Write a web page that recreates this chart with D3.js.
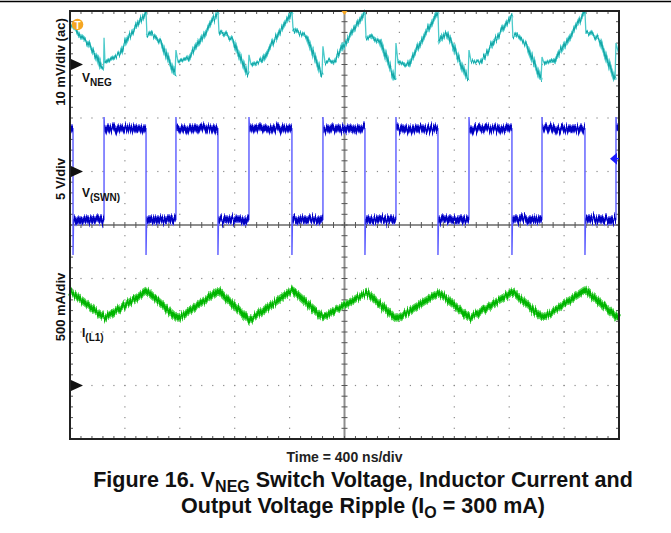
<!DOCTYPE html>
<html>
<head>
<meta charset="utf-8">
<title>VNEG switch voltage, inductor current and output ripple</title>
<script src="https://d3js.org/d3.v7.min.js"></script>
<style>
  body { margin: 0; background: #fff; }
  text { font-family: "Liberation Sans", Arial, sans-serif; font-weight: bold; }
</style>
</head>
<body>
<script>
// time axis: 10 div x 400 ns
var timeDomainNs = [0, 4000];

// V(SWN) edges (ns) and levels (V)
var swnFallNs = [22, 554, 1078, 1617, 2149, 2681, 3220, 3752];
var swnRiseNs = [248, 772, 1304, 1843, 2375, 2907, 3439, 3978];
var swnHighV = 4.0, swnLowV = -4.5, swnUnderV = -7.8, swnOverV = 5.1;

// VNEG ripple (ac), mV
var vnegNs = [0, 22, 73, 131, 200, 226, 245, 248, 255, 364, 415, 488, 554,
  561, 590, 663, 765, 772, 787, 860, 1078,
  1086, 1115, 1188, 1297, 1304, 1319, 1392, 1617,
  1625, 1655, 1727, 1836, 1843, 1858, 1931, 2004, 2149,
  2157, 2190, 2259, 2368, 2375, 2390, 2463, 2681,
  2688, 2740, 2790, 2900, 2907, 2922, 2995, 3220,
  3227, 3260, 3329, 3432, 3439, 3453, 3526, 3752,
  3759, 3790, 3861, 3971, 3978, 4000];
var vnegMv = [7.6, 7.0, 5.4, 4.0, 1.2, -0.7, -0.6, 5.0, 0.4, 2.1, 4.6, 7.4, 9.8,
  5.3, 5.9, 4.2, -2.0, 2.7, 0.5, 1.0, 9.8,
  5.9, 6.0, 4.6, -2.0, 1.8, 0.0, 0.6, 9.8,
  6.8, 6.2, 5.0, -2.0, 3.4, 0.4, 0.8, 4.0, 9.8,
  5.0, 5.5, 4.2, -2.9, 4.0, 0.3, -0.1, 9.8,
  4.0, 5.9, 3.6, -2.9, 2.7, 0.6, 0.6, 9.3,
  5.1, 5.5, 3.6, -2.9, 1.4, 0.3, 0.5, 9.8,
  5.9, 6.0, 4.6, -2.9, 4.0, 1.8];

// inductor current, mA
var ilNs = [0, 255, 561, 787, 1080, 1310, 1620, 1843, 2160, 2380, 2688, 2914, 3225, 3446, 3752, 4000];
var ilMa = [880, 631, 883, 621, 886, 612, 892, 635, 870, 621, 870, 628, 877, 628, 893, 625];

var W = 671, H = 533;
var L = 70, R = 619, T = 11, B = 439;

var svg = d3.select('body').append('svg')
  .attr('width', W)
  .attr('height', H);

// scope noise look: shift each pixel column up/down a little
var defs = svg.append('defs');
function noiseFilter(id, freq, amount, seed) {
  var f = defs.append('filter').attr('id', id).attr('filterUnits', 'userSpaceOnUse')
    .attr('x', 0).attr('y', 0).attr('width', W).attr('height', H);
  f.append('feTurbulence').attr('type', 'fractalNoise').attr('baseFrequency', freq + ' 0.01')
    .attr('numOctaves', 2).attr('seed', seed).attr('result', 'n');
  f.append('feColorMatrix').attr('in', 'n').attr('type', 'matrix')
    .attr('values', '0 0 0 0 0.5  0 1 0 0 0  0 0 0 0 0  0 0 0 0 1').attr('result', 'm');
  f.append('feDisplacementMap').attr('in', 'SourceGraphic').attr('in2', 'm')
    .attr('scale', amount).attr('xChannelSelector', 'R').attr('yChannelSelector', 'G');
}
noiseFilter('noiseA', 0.7, 9, 3);
noiseFilter('noiseB', 0.9, 12, 7);

var x = d3.scaleLinear().domain(timeDomainNs).range([L, R]);
var xDiv = d3.scaleLinear().domain([0, 10]).range([L, R]);
var yDiv = d3.scaleLinear().domain([0, 8]).range([T, B]);
// channel scales, ground markers at div 1, 3 and 7
var yNeg = d3.scaleLinear().domain([-70, 10]).range([B, T]);
var ySw = d3.scaleLinear().domain([-25, 15]).range([B, T]);
var yIl = d3.scaleLinear().domain([-500, 3500]).range([B, T]);

// page rule at top
svg.append('line').attr('x1', 0).attr('x2', W).attr('y1', 1.5).attr('y2', 1.5)
  .attr('stroke', '#000').attr('stroke-width', 1.5);

// dotted grid
var grid = svg.append('g');
d3.range(1, 10).forEach(function(i) {
  if (i == 5) return;
  d3.range(0, 40.01, 1).forEach(function(k) {
    grid.append('rect').attr('x', xDiv(i) - 0.6).attr('y', yDiv(k / 5) - 0.6)
      .attr('width', 1.2).attr('height', 1.2).attr('fill', '#8a8a8a');
  });
});
d3.range(1, 8).forEach(function(j) {
  if (j == 4) return;
  d3.range(0, 50.01, 1).forEach(function(k) {
    grid.append('rect').attr('x', xDiv(k / 5) - 0.6).attr('y', yDiv(j) - 0.6)
      .attr('width', 1.2).attr('height', 1.2).attr('fill', '#8a8a8a');
  });
});

// centre cross with minor ticks
grid.append('line').attr('x1', xDiv(5)).attr('x2', xDiv(5)).attr('y1', T).attr('y2', B)
  .attr('stroke', '#8e8e8e').attr('stroke-width', 2);
grid.append('line').attr('x1', L).attr('x2', R).attr('y1', yDiv(4)).attr('y2', yDiv(4))
  .attr('stroke', '#8e8e8e').attr('stroke-width', 2);
d3.range(0, 40.01, 1).forEach(function(k) {
  grid.append('line').attr('x1', xDiv(5) - 3).attr('x2', xDiv(5) + 3)
    .attr('y1', yDiv(k / 5)).attr('y2', yDiv(k / 5)).attr('stroke', '#555').attr('stroke-width', 1);
  grid.append('line').attr('x1', L).attr('x2', L + 3)
    .attr('y1', yDiv(k / 5)).attr('y2', yDiv(k / 5)).attr('stroke', '#555').attr('stroke-width', 1);
  grid.append('line').attr('x1', R - 3).attr('x2', R)
    .attr('y1', yDiv(k / 5)).attr('y2', yDiv(k / 5)).attr('stroke', '#555').attr('stroke-width', 1);
});
d3.range(0, 50.01, 1).forEach(function(k) {
  grid.append('line').attr('x1', xDiv(k / 5)).attr('x2', xDiv(k / 5))
    .attr('y1', yDiv(4) - 3).attr('y2', yDiv(4) + 3).attr('stroke', '#555').attr('stroke-width', 1);
  grid.append('line').attr('x1', xDiv(k / 5)).attr('x2', xDiv(k / 5))
    .attr('y1', B - 3).attr('y2', B).attr('stroke', '#555').attr('stroke-width', 1);
  grid.append('line').attr('x1', xDiv(k / 5)).attr('x2', xDiv(k / 5))
    .attr('y1', T).attr('y2', T + 3).attr('stroke', '#555').attr('stroke-width', 1);
});

var traces = svg.append('g');

// ---- VNEG (cyan)
var vneg = vnegNs.map(function(t, i) { return {t: t, v: vnegMv[i]}; });
var lineNeg = d3.line().x(function(d) { return x(d.t); }).y(function(d) { return yNeg(d.v); });
traces.append('path').datum(vneg).attr('d', lineNeg)
  .attr('fill', 'none').attr('stroke', '#4ccaca').attr('stroke-width', 1.3);
// noisy band: split at the drops, skip the spikes
var dropNs = swnFallNs.slice(1);
var pieces = [], cur = [];
vneg.forEach(function(d) {
  if (cur.length && dropNs.indexOf(cur[cur.length - 1].t) >= 0) { pieces.push(cur); cur = []; }
  cur.push(d);
});
pieces.push(cur);
var bandNeg = d3.line().defined(function(d) { return swnRiseNs.indexOf(d.t) < 0; })
  .x(function(d) { return x(d.t); }).y(function(d) { return yNeg(d.v); });
var gNeg = traces.append('g').attr('filter', 'url(#noiseA)');
pieces.forEach(function(p) {
  gNeg.append('path').datum(p).attr('d', bandNeg).attr('fill', 'none')
    .attr('stroke', '#5fd2d2').attr('stroke-width', 4).attr('stroke-linejoin', 'round');
  gNeg.append('path').datum(p).attr('d', bandNeg).attr('fill', 'none')
    .attr('stroke', '#13a6a6').attr('stroke-width', 1.8).attr('stroke-linejoin', 'round');
});

// ---- V(SWN) (blue)
var events = swnFallNs.map(function(t) { return {t: t, fall: true}; })
  .concat(swnRiseNs.map(function(t) { return {t: t, fall: false}; }))
  .sort(function(a, b) { return a.t - b.t; });
var sw = [{t: 0, v: swnHighV}], plateaus = [], start = 0, lvl = swnHighV;
events.forEach(function(e) {
  if (e.fall) {
    sw.push({t: e.t, v: swnHighV}, {t: e.t, v: swnUnderV}, {t: e.t + 4, v: swnLowV});
    plateaus.push([{t: start, v: swnHighV}, {t: e.t, v: swnHighV}]);
    start = e.t + 4; lvl = swnLowV;
  } else {
    sw.push({t: e.t, v: swnLowV}, {t: e.t, v: swnOverV}, {t: e.t + 4, v: swnHighV});
    plateaus.push([{t: start, v: swnLowV}, {t: e.t, v: swnLowV}]);
    start = e.t + 4; lvl = swnHighV;
  }
});
sw.push({t: timeDomainNs[1], v: lvl});
plateaus.push([{t: start, v: lvl}, {t: timeDomainNs[1], v: lvl}]);
var lineSw = d3.line().x(function(d) { return x(d.t); }).y(function(d) { return ySw(d.v); });
traces.append('path').datum(sw).attr('d', lineSw)
  .attr('fill', 'none').attr('stroke', '#5a5aff').attr('stroke-width', 1.4);
var gSw = traces.append('g').attr('filter', 'url(#noiseB)');
plateaus.forEach(function(p) {
  gSw.append('path').datum(p).attr('d', lineSw).attr('fill', 'none')
    .attr('stroke', '#7070f0').attr('stroke-width', 9);
  gSw.append('path').datum(p).attr('d', lineSw).attr('fill', 'none')
    .attr('stroke', '#0606c0').attr('stroke-width', 6);
});

// ---- I(L1) (green)
var il = ilNs.map(function(t, i) { return {t: t, v: ilMa[i]}; });
var lineIl = d3.line().x(function(d) { return x(d.t); }).y(function(d) { return yIl(d.v); });
var gIl = traces.append('g').attr('filter', 'url(#noiseA)');
gIl.append('path').datum(il).attr('d', lineIl).attr('fill', 'none')
  .attr('stroke', '#5ad65a').attr('stroke-width', 7).attr('stroke-linejoin', 'round');
gIl.append('path').datum(il).attr('d', lineIl).attr('fill', 'none')
  .attr('stroke', '#06b406').attr('stroke-width', 4).attr('stroke-linejoin', 'round');

// frame
svg.append('rect').attr('x', L).attr('y', T).attr('width', R - L).attr('height', B - T)
  .attr('fill', 'none').attr('stroke', '#222').attr('stroke-width', 2);

// channel ground markers
[yNeg(0), ySw(0), yIl(0)].forEach(function(yy) {
  svg.append('path').attr('d', 'M' + (L + 1) + ',' + (yy - 5.5) + 'L' + (L + 13) + ',' + yy + 'L' + (L + 1) + ',' + (yy + 5.5) + 'Z')
    .attr('fill', '#111');
});

// trigger markers
svg.append('circle').attr('cx', 77.5).attr('cy', 24.5).attr('r', 5.8).attr('fill', '#f5a623');
svg.append('text').attr('x', 77.5).attr('y', 28.5).attr('text-anchor', 'middle')
  .attr('font-size', 10).attr('fill', '#fff').text('T');
svg.append('path').attr('d', 'M' + (xDiv(5) - 3) + ',' + T + 'L' + (xDiv(5) + 3) + ',' + T + 'L' + xDiv(5) + ',' + (T + 4) + 'Z')
  .attr('fill', '#f5a623');
svg.append('path').attr('d', 'M610,' + ySw(1.2) + 'L617,' + (ySw(1.2) - 6) + 'L617,' + (ySw(1.2) + 6) + 'Z')
  .attr('fill', '#1a1aff');
svg.append('line').attr('x1', 616).attr('x2', 619).attr('y1', ySw(1.2)).attr('y2', ySw(1.2))
  .attr('stroke', '#1a1aff').attr('stroke-width', 1.5);

// volts/div labels
[['10 mV/div (ac)', 62], ['5 V/div', 179], ['500 mA/div', 307]].forEach(function(d) {
  svg.append('text').attr('transform', 'translate(65,' + d[1] + ') rotate(-90)')
    .attr('text-anchor', 'middle').attr('font-size', 13).attr('fill', '#111').text(d[0]);
});

// channel names with subscripts
function chanLabel(x0, y0, main, sub) {
  var t = svg.append('text').attr('x', x0).attr('y', y0).attr('font-size', 12).attr('fill', '#111');
  t.append('tspan').text(main);
  t.append('tspan').attr('dy', 4).attr('font-size', 10).text(sub);
}
chanLabel(82, 82, 'V', 'NEG');
chanLabel(82, 197, 'V', '(SWN)');
chanLabel(82, 337, 'I', '(L1)');

svg.append('text').attr('x', xDiv(5)).attr('y', 462).attr('text-anchor', 'middle')
  .attr('font-size', 14).attr('fill', '#222').text('Time = 400 ns/div');

// caption
var c1 = svg.append('text').attr('x', 363).attr('y', 487).attr('text-anchor', 'middle')
  .attr('font-size', 21.5).attr('fill', '#111');
c1.append('tspan').text('Figure 16. V');
c1.append('tspan').attr('dy', 5).attr('font-size', 16).text('NEG');
c1.append('tspan').attr('dy', -5).text(' Switch Voltage, Inductor Current and');
var c2 = svg.append('text').attr('x', 363).attr('y', 513).attr('text-anchor', 'middle')
  .attr('font-size', 21.5).attr('fill', '#111');
c2.append('tspan').text('Output Voltage Ripple (I');
c2.append('tspan').attr('dy', 5).attr('font-size', 16).text('O');
c2.append('tspan').attr('dy', -5).text(' = 300 mA)');
</script>
</body>
</html>
